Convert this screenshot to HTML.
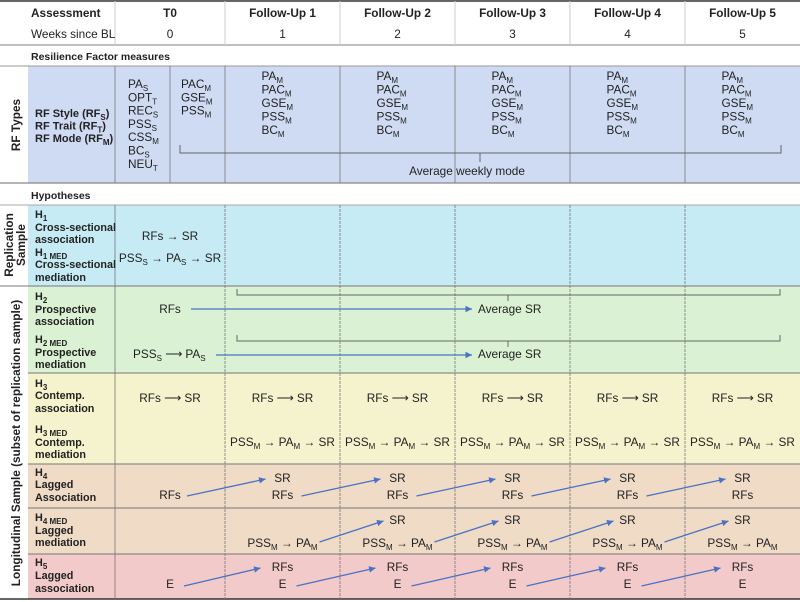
<!DOCTYPE html>
<html><head><meta charset="utf-8"><style>
html,body{margin:0;padding:0;background:#fff;}
svg{display:block;font-family:"Liberation Sans",Arial,sans-serif;}
.b{font-weight:bold;}
</style></head><body>
<svg id="fig" width="800" height="602" viewBox="0 0 800 602">
<defs><marker id="ah" markerWidth="6" markerHeight="6" refX="5" refY="3" orient="auto"><path d="M0,0.5 L5,3 L0,5.5 Z" fill="#4a72c4"/></marker></defs>
<g id="bands"></g><g id="lines"></g><g id="marks"></g><g id="texts" font-size="11.8" fill="#222"></g>
</svg>
<script>
const NS='http://www.w3.org/2000/svg';
const colBounds=[115,225,340,455,570,685,800];
const colNames=['T0','Follow-Up 1','Follow-Up 2','Follow-Up 3','Follow-Up 4','Follow-Up 5'];
const weeks=['0','1','2','3','4','5'];
const centers=[170,282.5,397.5,512.5,627.5,742.5];
const G=id=>document.getElementById(id);
function el(tag,attrs,parent){const e=document.createElementNS(NS,tag);for(const k in attrs)e.setAttribute(k,attrs[k]);G(parent).appendChild(e);return e;}
function txt(x,y,s,opt){opt=opt||{};
 const t=el('text',{x:x,y:y,'text-anchor':opt.a||'start'},'texts');
 
 
 if(opt.b)t.setAttribute('class','b');
 if(opt.fs)t.setAttribute('font-size',opt.fs);
 if(opt.rot)t.setAttribute('transform','rotate(-90 '+x+' '+y+')');
 const parts=s.split(/(_\{[^}]*\}|_\w+)/);
 let sub=false;
 parts.forEach(p=>{if(!p)return;const ts=document.createElementNS(NS,'tspan');
  if(p[0]==='_'){let c=p.slice(1);if(c[0]==='{')c=c.slice(1,-1);ts.textContent=c;ts.setAttribute('font-size','8');ts.setAttribute('dy','3');sub=true;}
  else{ts.textContent=p;if(sub){ts.setAttribute('dy','-3');sub=false;}}
  t.appendChild(ts);});
 return t;}
function rect(x,y,w,h,f,n){const r=el('rect',{x:x,y:y,width:w,height:h,fill:f},'bands');
 
 }
function line(x1,y1,x2,y2,c,w,extra,p){const l=el('line',Object.assign({x1:x1,y1:y1,x2:x2,y2:y2,stroke:c,'stroke-width':w},extra||{}),p||'lines');
 
 return l;}
function arrow(x1,y1,x2,y2){const l=line(x1,y1,x2,y2,'#4a72c4',1.3,{'marker-end':'url(#ah)'},'marks');
 }
function bracket(x1,x2,y,tx,ty,h){const p=el('path',{d:`M${x1},${y-h} L${x1},${y} L${x2},${y} L${x2},${y-h} M${tx},${y} L${tx},${ty}`,fill:'none',stroke:'#666','stroke-width':1},'marks');
 
 }

rect(28,66,772,117,'#cfdbf3','rf-types-band');
rect(28,205,772,81,'#c6ebf4','replication-band');
rect(28,286,772,87,'#daf2d3','h2-band');
rect(28,373,772,91,'#f4f3cd','h3-band');
rect(28,464,772,90,'#efdbc6','h4-band');
rect(28,554,772,45,'#f3caca','h5-band');
line(0,1,800,1,'#333',1.5);
line(0,45,800,45,'#999',1.2);
line(0,66,800,66,'#999',1);
line(0,183,800,183,'#888',1.2);
line(0,205,800,205,'#aaa',1);
line(0,286,800,286,'#777',1);
line(28,373,800,373,'#777',1);
line(28,464,800,464,'#777',1);
line(28,508,800,508,'#777',1);
line(28,554,800,554,'#777',1);
line(0,599,800,599,'#333',1.5);
colBounds.slice(0,6).forEach((x,i)=>{line(x,1,x,45,'#ccc',1);line(x,66,x,183,'#777',0.8);line(x,205,x,599,'#777',0.8,i>0?{'stroke-dasharray':'3,1'}:{});});
line(170,66,170,183,'#777',0.8);

txt(31,17,'Assessment',{b:1,n:'assessment-header'});
txt(31,38,'Weeks since BL',{n:'weeks-header'});
colNames.forEach((c,i)=>{txt(centers[i],17,c,{a:'middle',b:1,n:'column-header'});txt(centers[i],38,weeks[i],{a:'middle',n:'week-number'});});
txt(31,60,'Resilience Factor measures',{b:1,fs:10.5,n:'section-title'});
txt(31,199,'Hypotheses',{b:1,fs:10.5,n:'section-title'});
txt(20,125,'RF Types',{a:'middle',b:1,rot:1,n:'rf-types-label'});
txt(13,245,'Replication',{a:'middle',b:1,rot:1,n:'replication-label'});
txt(25,245,'Sample',{a:'middle',b:1,rot:1,n:'replication-label'});
txt(20,443,'Longitudinal Sample (subset of replication sample)',{a:'middle',b:1,rot:1,n:'longitudinal-label'});

['RF Style (RF_S)','RF Trait (RF_T)','RF Mode (RF_M)'].forEach((s,i)=>txt(35,117+i*12.5,s,{b:1,fs:11,n:'rf-type'}));
['PA_S','OPT_T','REC_S','PSS_S','CSS_M','BC_S','NEU_T'].forEach((s,i)=>txt(128,88+i*13.3,s,{n:'t0-measure'}));
['PAC_M','GSE_M','PSS_M'].forEach((s,i)=>txt(181,88+i*13.3,s,{n:'t0-mode-measure'}));
const fuMeasures=['PA_M','PAC_M','GSE_M','PSS_M','BC_M'];
for(let c=1;c<6;c++)fuMeasures.forEach((s,i)=>txt(centers[c]-21,80+i*13.5,s,{n:'fu-measure'}));
bracket(180,781,153,480,162,8);
txt(467,175,'Average weekly mode',{a:'middle',n:'average-weekly-mode'});

const hyp=[[218,'H_1'],[231,'Cross-sectional'],[243,'association'],[256,'H_{1 MED}'],[268,'Cross-sectional'],[281,'mediation'],
[300,'H_2'],[313,'Prospective'],[325,'association'],[343,'H_{2 MED}'],[356,'Prospective'],[368,'mediation'],
[387,'H_3'],[399,'Contemp.'],[412,'association'],[433,'H_{3 MED}'],[446,'Contemp.'],[458,'mediation'],
[476,'H_4'],[488,'Lagged'],[501,'Association'],[521,'H_{4 MED}'],[534,'Lagged'],[546,'mediation'],
[566,'H_5'],[579,'Lagged'],[592,'association']];
hyp.forEach(h=>txt(35,h[0],h[1],{b:1,fs:10.8,n:'hypothesis-label'}));

txt(170,240,'RFs → SR',{a:'middle',n:'h1-path'});
txt(170,262,'PSS_S → PA_S → SR',{a:'middle',n:'h1med-path'});
bracket(237,780,295,508,301,6);
txt(170,313,'RFs',{a:'middle',n:'h2-rfs'});
arrow(191,309,472,309);
txt(478,313,'Average SR',{n:'h2-average-sr'});
bracket(237,780,341,508,347,6);
txt(133,358,'PSS_S ⟶ PA_S',{n:'h2med-path'});
arrow(216,355,472,355);
txt(478,358,'Average SR',{n:'h2med-average-sr'});
for(let c=0;c<6;c++){txt(centers[c],402,'RFs ⟶ SR',{a:'middle',n:'h3-path'});
 if(c>0)txt(centers[c],446,'PSS_M → PA_M → SR',{a:'middle',n:'h3med-path'});}
txt(170,499,'RFs',{a:'middle',n:'h4-rfs'});
for(let c=1;c<6;c++){txt(centers[c],482,'SR',{a:'middle',n:'h4-sr'});txt(centers[c],499,'RFs',{a:'middle',n:'h4-rfs'});}
for(let c=0;c<5;c++){const x0=c==0?187:centers[c]+19;arrow(x0,496,centers[c+1]-17,479);}
for(let c=1;c<6;c++){if(c>1)txt(centers[c],524,'SR',{a:'middle',n:'h4med-sr'});txt(centers[c],547,'PSS_M → PA_M',{a:'middle',n:'h4med-path'});}
for(let c=1;c<5;c++)arrow(centers[c]+37,542,centers[c+1]-14,521);
txt(170,588,'E',{a:'middle',n:'h5-e'});
for(let c=1;c<6;c++){txt(centers[c],571,'RFs',{a:'middle',n:'h5-rfs'});txt(centers[c],588,'E',{a:'middle',n:'h5-e'});}
for(let c=0;c<5;c++)arrow(centers[c]+14,586,centers[c+1]-22,568);
</script>
</body></html>
